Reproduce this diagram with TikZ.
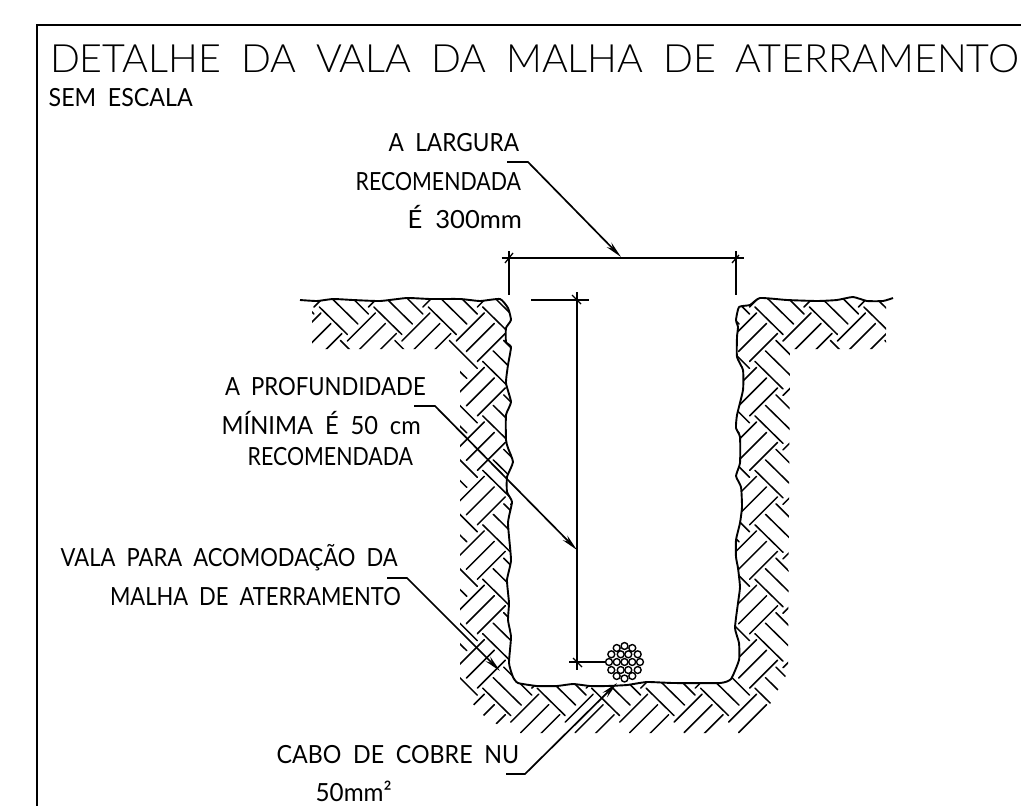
\documentclass[tikz,border=0pt]{standalone}
\usepackage{fontspec}
\usepackage{graphicx}
\usetikzlibrary{arrows.meta}
\setmainfont{Lato}
\newfontfamily\ttlfont[UprightFont=* Light]{Lato}
\newsavebox\fitbox
\newcommand\fitw[2]{\sbox\fitbox{#2}\pgfmathsetmacro\fitr{#1/\the\wd\fitbox}\scalebox{\fitr}[1]{\usebox\fitbox}}
\tikzset{
  x=1pt,y=-1pt,
  lab/.style={anchor=base west,inner sep=0pt,outer sep=0pt,font=\fontsize{25}{25}\selectfont},
  hatchln/.style={line width=1.5pt,line cap=round},
  wallln/.style={line width=1.9pt,line join=round},
  dimln/.style={line width=1.7pt},
  tickln/.style={line width=1.3pt},
  leaderln/.style={line width=1.7pt},
  tipped/.style={-{Stealth[length=17pt,width=6.5pt]}},
  strand/.style={circle,draw=black,fill=white,line width=1.4pt,minimum size=6.9pt,inner sep=0pt,outer sep=0pt},
}
\newcommand\wallpts{(300,300)(317,301)(333,299)(353,300)(380,301)(407,298)(430,299)(460,299)(480,301)(500,299)(508,308)(511,320)(506,328)(506,342)(511,347)(508,365)(506,383)(511,402)(506,415)(506,440)(508,448)(513,462)(507,477)(507,492)(512,502)(508,523)(511,560)(507,580)(509,603)(508,620)(511,637)(509,663)(513,677)(518,683)(537,686)(557,686)(573,684)(590,686)(607,686)(627,685)(647,682)(673,683)(720,683)(731,679)(739,660)(739,643)(735,628)(738,603)(740,587)(738,568)(736,557)(736,540)(740,523)(742,507)(741,487)(736,476)(740,463)(740,437)(736,428)(737,415)(743,390)(743,370)(737,357)(737,337)(738,327)(736,320)(739,307)(750,305)(760,298)(787,300)(817,301)(837,300)(853,297)(867,301)(883,301)(893,298)}
\begin{document}
\begin{tikzpicture}
\useasboundingbox (0,0) rectangle (1021,806);
\fill[white] (0,0) rectangle (1021,806);
% frame
\draw[line width=2pt] (37,806) -- (37,25) -- (1021,25);
% soil hatch
\begin{scope}
\clip plot[smooth,tension=0.3] coordinates {\wallpts} -- (886,302) -- (886,349) -- (790,349) -- (788,672) -- (764,715) -- (745,733) -- (515,733) -- (500,726) -- (485,717) -- (472,703) -- (460,680) -- (460,352) -- (457,349) -- (312,349) -- (312,301) -- cycle;
\foreach \i in {-9,...,2}{\foreach \j in {-1,...,7}{
  \draw[hatchln,shift={(\i*54.45,\j*54.45)}]
    (755,307) -- +(28,27.5)
    (765.5,296.5) -- +(28,27.5)
    (776,286) -- +(28,28)
    (783,341) -- +(28,-28)
    (793,351.5) -- +(28,-28)
    (804,361.5) -- +(28,-28);
}}
\end{scope}
\draw[wallln] plot[smooth,tension=0.3] coordinates {\wallpts};
% texts
\node[lab,font=\ttlfont\fontsize{39}{39}\selectfont] (title) at (50,72) {\spaceskip=0.5em\fitw{969}{DETALHE DA VALA DA MALHA DE ATERRAMENTO}};
\node[lab] (scale) at (48.7,106) {\spaceskip=0.5em\fitw{144}{SEM ESCALA}};
\node[lab] (w1) at (388.7,151.7) {\spaceskip=0.5em\fitw{130.3}{A LARGURA}};
\node[lab] (w2) at (355.7,190) {\fitw{165.3}{RECOMENDADA}};
\node[lab] (w3) at (407.7,228) {\spaceskip=0.5em\fitw{114.3}{É 300mm}};
\node[lab] (d1) at (225,395) {\spaceskip=0.5em\fitw{200.7}{A PROFUNDIDADE}};
\node[lab] (d2) at (221.7,434) {\spaceskip=0.5em\fitw{199}{MÍNIMA É 50 cm}};
\node[lab] (d3) at (247.7,465) {\fitw{165.3}{RECOMENDADA}};
\node[lab] (v1) at (60.7,566.7) {\spaceskip=0.5em\fitw{337}{VALA PARA ACOMODAÇÃO DA}};
\node[lab] (v2) at (110,605) {\spaceskip=0.5em\fitw{290.7}{MALHA DE ATERRAMENTO}};
\node[lab] (c1) at (276.7,763) {\spaceskip=0.5em\fitw{242.3}{CABO DE COBRE NU}};
\node[lab] (c2) at (315.7,801.7) {\fitw{76}{50mm²}};
% width dimension
\coordinate (wl) at (501.5,258);
\coordinate (wr) at (744,258);
\coordinate (wlt) at (509,251);
\coordinate (wlb) at (509,295);
\coordinate (wrt) at (736,251);
\coordinate (wrb) at (736,295);
\draw[dimln] (wl) -- (wr);
\draw[dimln] (wlt) -- (wlb);
\draw[dimln] (wrt) -- (wrb);
\coordinate (t1a) at (505,263); \coordinate (t1b) at (513,253);
\coordinate (t2a) at (732,263); \coordinate (t2b) at (739,255);
\draw[tickln] (t1a) -- (t1b);
\draw[tickln] (t2a) -- (t2b);
% depth dimension
\coordinate (dtl) at (531,300);
\coordinate (dtr) at (589,300);
\coordinate (dt) at (577,292);
\coordinate (db) at (577,670);
\coordinate (dbl) at (569,662);
\draw[dimln] (dtl) -- (dtr);
\draw[dimln] (dt) -- (db);
\coordinate (t3a) at (572,295); \coordinate (t3b) at (581,304);
\coordinate (t4a) at (573,658); \coordinate (t4b) at (582,667);
\draw[tickln] (t3a) -- (t3b);
\draw[tickln] (t4a) -- (t4b);
% cable
\coordinate (cab) at (624.5,662);
\draw[dimln] (dbl) -- (cab);
\foreach \n/\x/\y in {a/616.7/648,b/624.5/646,c/632.3/648,
  d/611.3/654.3,e/620.7/654.3,f/628.3/654.3,g/637.7/654.3,
  h/609/662,k/616.8/662,l/624.5/662,m/632.2/662,n/640/662,
  o/611.3/670,p/620.7/670,q/628.3/670,r/637.7/670,
  s/616.7/676,t/624.5/678.5,u/632.3/676}{
  \node[strand] (s\n) at (\x,\y) {};
}
% leaders
\coordinate (l1a) at (507,162); \coordinate (l1b) at (528,162); \coordinate (l1c) at (621,257);
\coordinate (l2a) at (414,406); \coordinate (l2b) at (435,406); \coordinate (l2c) at (577,550);
\coordinate (l3a) at (387,578); \coordinate (l3b) at (407,578); \coordinate (l3c) at (500,671);
\coordinate (l4a) at (506,774); \coordinate (l4b) at (525,774); \coordinate (l4c) at (617,683);
\draw[leaderln,tipped] (l1a) -- (l1b) -- (l1c);
\draw[leaderln,tipped] (l2a) -- (l2b) -- (l2c);
\draw[leaderln,tipped] (l3a) -- (l3b) -- (l3c);
\draw[leaderln,tipped] (l4a) -- (l4b) -- (l4c);
\end{tikzpicture}
\end{document}
